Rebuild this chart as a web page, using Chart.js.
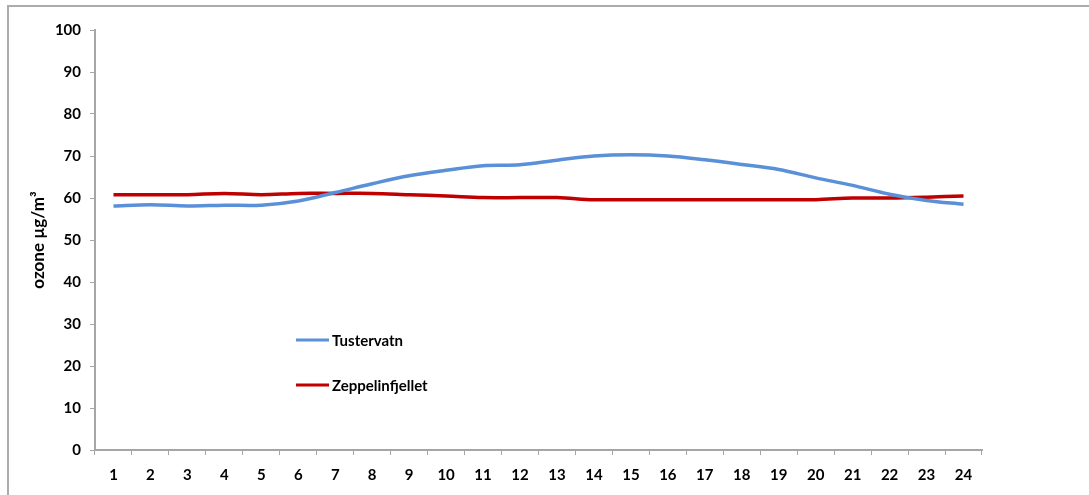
<!DOCTYPE html>
<html>
<head>
<meta charset="utf-8">
<script src="https://cdn.jsdelivr.net/npm/chart.js@4"></script>
<style>
  html, body { margin: 0; padding: 0; background: #fff; }
  #wrap { position: relative; width: 1089px; height: 495px; }
</style>
</head>
<body>
<div id="wrap"><canvas id="chartOzon"></canvas></div>
<script>
// time of day (hours)
const hours = ['1','2','3','4','5','6','7','8','9','10','11','12','13','14','15','16','17','18','19','20','21','22','23','24'];
const tustervatn = [58.1, 58.4, 58.1, 58.3, 58.3, 59.3, 61.3, 63.4, 65.3, 66.6, 67.7, 67.9, 69.0, 70.0, 70.3, 70.0, 69.1, 68.0, 66.8, 64.8, 63.0, 60.9, 59.4, 58.5];
const zeppelinfjellet = [60.8, 60.8, 60.8, 61.1, 60.8, 61.1, 61.1, 61.1, 60.8, 60.5, 60.1, 60.1, 60.1, 59.6, 59.6, 59.6, 59.6, 59.6, 59.6, 59.6, 60.0, 60.0, 60.2, 60.5];
const yTicks = [0, 10, 20, 30, 40, 50, 60, 70, 80, 90, 100];

const axisColor = '#a6a6a6';
const fontFam = 'Lato, "Open Sans", sans-serif';

// outer frame of the chart, like the excel chart border
const framePlugin = {
  id: 'frame',
  beforeDraw(chart) {
    const c = chart.ctx;
    c.save();
    c.strokeStyle = '#ababab';
    c.lineWidth = 2;
    c.beginPath();
    c.moveTo(8, chart.height);
    c.lineTo(8, 6);
    c.lineTo(chart.width, 6);
    c.stroke();
    c.restore();
  }
};

// legend drawn inside the plot area
const innerLegend = {
  id: 'innerLegend',
  afterDraw(chart, args, opts) {
    const c = chart.ctx;
    c.save();
    c.font = 'bold 15px ' + fontFam;
    c.textBaseline = 'middle';
    chart.data.datasets.forEach((ds, i) => {
      const y = opts.y + i * opts.gap;
      c.strokeStyle = ds.borderColor;
      c.lineWidth = 3;
      c.beginPath();
      c.moveTo(opts.x, y);
      c.lineTo(opts.x + 33, y);
      c.stroke();
      c.fillStyle = '#000';
      c.fillText(ds.label, opts.x + 36, y + 1);
    });
    c.restore();
  }
};

const ctx = document.getElementById('chartOzon').getContext('2d');
new Chart(ctx, {
  type: 'line',
  data: {
    labels: hours,
    datasets: [
      {
        label: 'Tustervatn',
        data: tustervatn,
        borderColor: '#5990d8',
        borderWidth: 3.5,
        pointRadius: 0,
        tension: 0.35
      },
      {
        label: 'Zeppelinfjellet',
        data: zeppelinfjellet,
        borderColor: '#c00000',
        borderWidth: 3.5,
        pointRadius: 0,
        tension: 0.35
      }
    ]
  },
  plugins: [framePlugin, innerLegend],
  options: {
    responsive: true,
    maintainAspectRatio: false,
    animation: false,
    layout: { padding: { top: 30, right: 107, bottom: 0, left: 0 } },
    plugins: {
      legend: { display: false },
      tooltip: { enabled: false },
      innerLegend: { x: 296, y: 340, gap: 45 }
    },
    scales: {
      x: {
        offset: true,
        grid: { display: true, drawOnChartArea: false, drawTicks: true, tickLength: 5, color: axisColor, offset: true },
        border: { color: axisColor, width: 2 },
        ticks: { color: '#000', font: { family: fontFam, size: 15, weight: 'bold' }, padding: 11, maxRotation: 0, autoSkip: false },
        afterFit(scale) { scale.height = 45; }
      },
      y: {
        min: 0,
        max: 100,
        afterBuildTicks(scale) { scale.ticks = yTicks.map(v => ({ value: v })); },
        grid: { display: true, drawOnChartArea: false, drawTicks: true, tickLength: 5, color: axisColor },
        border: { color: axisColor, width: 2 },
        ticks: { color: '#000', font: { family: fontFam, size: 15, weight: 'bold' }, padding: 9 },
        title: {
          display: true,
          text: 'ozone µg/m³',
          color: '#000',
          font: { family: fontFam, size: 17, weight: 'bold' },
          padding: { top: 28, bottom: 0 }
        },
        afterFit(scale) { scale.width = 95; }
      }
    }
  }
});
</script>
</body>
</html>
